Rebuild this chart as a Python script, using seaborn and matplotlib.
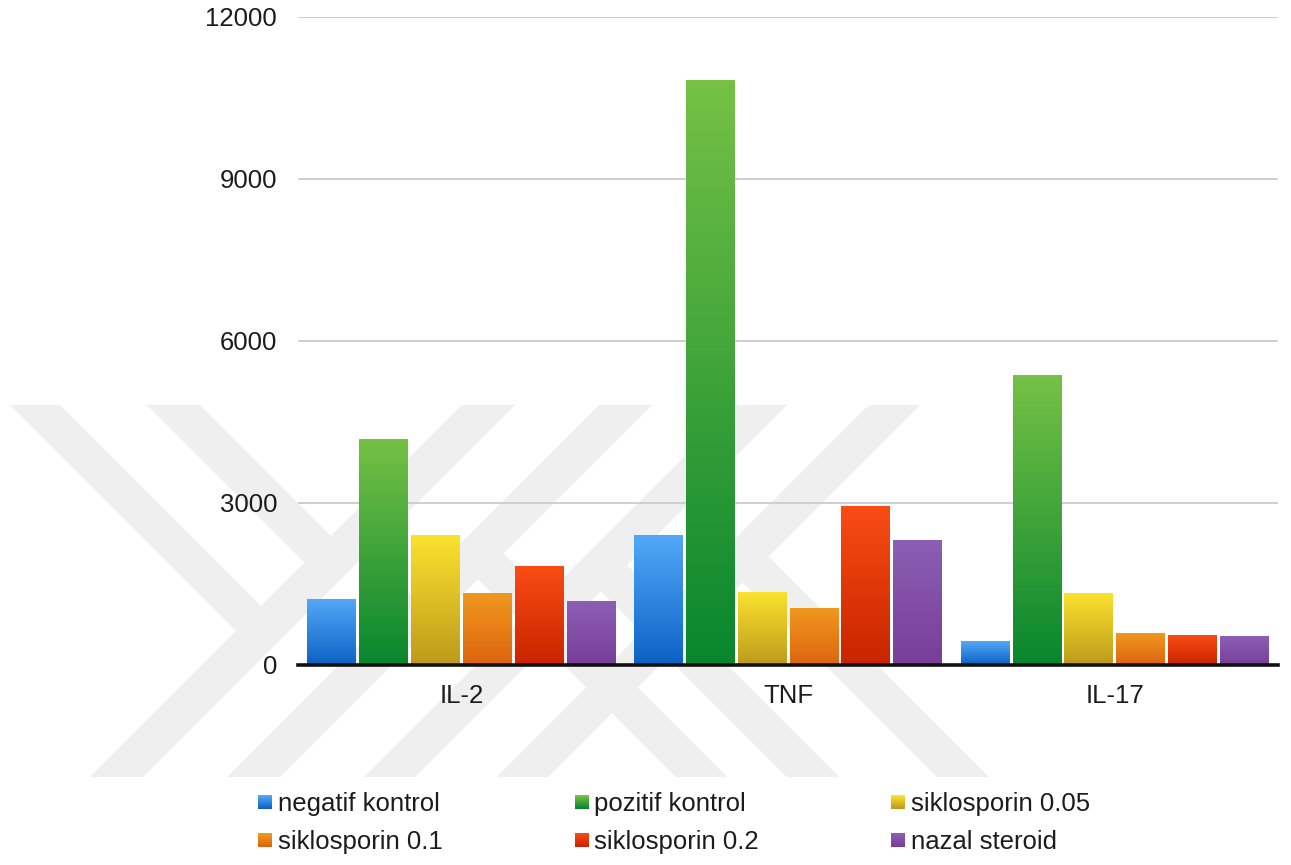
import numpy as np
import pandas as pd
import matplotlib
matplotlib.use("Agg")
import matplotlib.pyplot as plt
import seaborn as sns
from matplotlib.patches import Polygon, Rectangle
from matplotlib.colors import to_rgb
from matplotlib.legend_handler import HandlerBase

# ---- data -------------------------------------------------------------
cytokines = ["IL-2", "TNF", "IL-17"]
groups = ["negatif kontrol", "pozitif kontrol", "siklosporin 0.05",
          "siklosporin 0.1", "siklosporin 0.2", "nazal steroid"]
negatif_kontrol = [1220, 2390, 440]
pozitif_kontrol = [4180, 10830, 5370]
siklosporin_005 = [2390, 1340, 1330]
siklosporin_01 = [1330, 1040, 590]
siklosporin_02 = [1830, 2930, 540]
nazal_steroid = [1170, 2300, 520]
yticks = [0, 3000, 6000, 9000, 12000]

series = [negatif_kontrol, pozitif_kontrol, siklosporin_005,
          siklosporin_01, siklosporin_02, nazal_steroid]

# gradient colours for each group (top -> bottom)
top_colors = ["#52A8F8", "#76C146", "#FBE22E", "#F0981E", "#FA4C14", "#8C5EB4"]
bottom_colors = ["#0C62C4", "#08862E", "#BD9A1C", "#DD6410", "#C82400", "#783E98"]

df = pd.DataFrame(
    [(c, g, v) for g, vals in zip(groups, series) for c, v in zip(cytokines, vals)],
    columns=["cytokine", "group", "value"],
)

# ---- figure -----------------------------------------------------------
W, H = 1291, 865
sns.set_theme(style="white")
plt.rcParams["font.family"] = ["Liberation Sans", "DejaVu Sans"]
text_color = "#1c1c1c"

fig = plt.figure(figsize=(W / 100, H / 100), dpi=100)
fig.patch.set_facecolor("white")

# light background emblem made of diagonal bands (pixel coords, y downward)
def px(points):
    return [(x / W, 1 - y / H) for x, y in points]

emblem = [
    [(90, 777), (143, 777), (515, 405), (462, 405)],
    [(227, 777), (280, 777), (652, 405), (599, 405)],
    [(364, 777), (415, 777), (787, 405), (736, 405)],
    [(497, 777), (548, 777), (920, 405), (869, 405)],
    [(10, 405), (60, 405), (274.25, 619.25), (249.25, 644.25)],
    [(147, 405), (200, 405), (344.25, 549.25), (317.75, 575.75)],
    [(464.75, 565.75), (490.25, 540.25), (727, 777), (676, 777)],
    [(588.25, 578.25), (614.25, 552.25), (839, 777), (787, 777)],
    [(729.75, 569.75), (755.75, 543.75), (989, 777), (937, 777)],
]
for pts in emblem:
    fig.add_artist(Polygon(px(pts), closed=True, transform=fig.transFigure,
                           facecolor="#EFEFEF", edgecolor="none", zorder=-1))

ax = fig.add_axes([298 / W, 1 - 665 / H, 980 / W, 648 / H])
ax.patch.set_alpha(0)

mid_colors = [tuple((np.array(to_rgb(t)) + np.array(to_rgb(b))) / 2)
              for t, b in zip(top_colors, bottom_colors)]

sns.barplot(data=df, x="cytokine", y="value", hue="group",
            order=cytokines, hue_order=groups, palette=mid_colors,
            width=0.952, gap=0.06, saturation=1, errorbar=None,
            linewidth=0, legend=False, ax=ax)

xlim = ax.get_xlim()

# vertical gradient fill for every bar
def gradient(top, bottom, n=512):
    t = np.linspace(0, 1, n)[:, None]
    c = (1 - t) * np.array(to_rgb(top)) + t * np.array(to_rgb(bottom))
    return np.repeat(c[:, None, :], 2, axis=1)

for i, cont in enumerate(ax.containers):
    img = gradient(top_colors[i], bottom_colors[i])
    for bar in cont:
        x0, w, h = bar.get_x(), bar.get_width(), bar.get_height()
        ax.imshow(img, extent=(x0, x0 + w, 0, h), origin="upper",
                  aspect="auto", interpolation="nearest", zorder=2)
        bar.set_visible(False)

ax.set_xlim(xlim)
ax.set_ylim(0, 12000)
ax.set_yticks(yticks)
ax.set_xlabel("")
ax.set_ylabel("")

ax.yaxis.grid(True, color="#CCCCCC", linewidth=1.3)
ax.xaxis.grid(False)
ax.set_axisbelow(True)
for side in ["left", "right", "top"]:
    ax.spines[side].set_visible(False)
ax.spines["bottom"].set_color("#111111")
ax.spines["bottom"].set_linewidth(2.6)
ax.spines["bottom"].set_zorder(3)

ax.tick_params(axis="y", length=0, pad=15, labelsize=18.5, labelcolor=text_color)
ax.tick_params(axis="x", length=0, pad=14, labelsize=18.5, labelcolor=text_color)

# ---- legend with gradient swatches -----------------------------------
class GradientSwatch(HandlerBase):
    def __init__(self, top, bottom, n=14):
        super().__init__()
        self.top, self.bottom, self.n = top, bottom, n

    def create_artists(self, legend, orig_handle, xdescent, ydescent,
                       width, height, fontsize, trans):
        side = min(width, height)
        x0 = -xdescent
        y0 = -ydescent + (height - side) / 2
        top, bottom = np.array(to_rgb(self.top)), np.array(to_rgb(self.bottom))
        parts = []
        for k in range(self.n):
            t = k / (self.n - 1)
            col = (1 - t) * top + t * bottom
            yk = y0 + side - (k + 1) * side / self.n
            parts.append(Rectangle((x0, yk), side, side / self.n * 1.05,
                                   facecolor=col, edgecolor="none",
                                   transform=trans))
        return parts

handles = [Rectangle((0, 0), 1, 1) for _ in groups]
hmap = {h: GradientSwatch(t, b) for h, t, b in zip(handles, top_colors, bottom_colors)}
order = [0, 3, 1, 4, 2, 5]
fig.legend([handles[i] for i in order], [groups[i] for i in order],
           handler_map=hmap, loc="upper left",
           bbox_to_anchor=(258 / W, 1 - 792 / H), ncol=3, frameon=False,
           borderpad=0, borderaxespad=0, handlelength=0.545,
           handleheight=0.545, handletextpad=0.22, columnspacing=5.15,
           labelspacing=0.55, fontsize=18.5, labelcolor=text_color)

fig.savefig("out.png", dpi=100, facecolor="white")
